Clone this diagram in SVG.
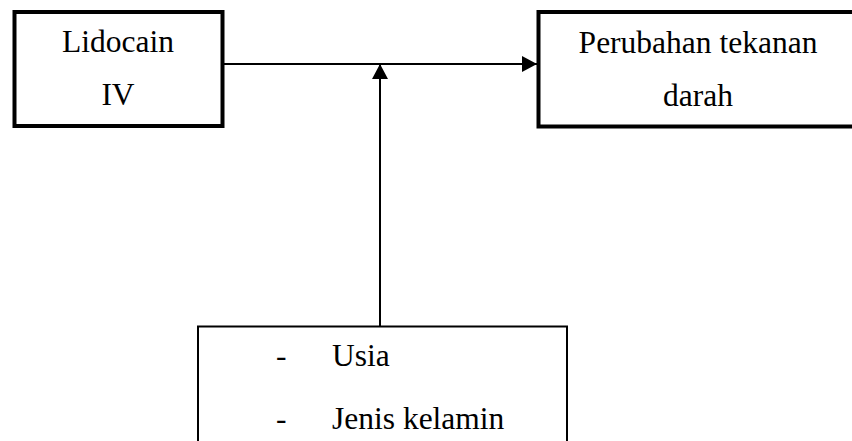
<svg xmlns="http://www.w3.org/2000/svg" width="852" height="441" viewBox="0 0 852 441">
<style>
.box{fill:#fff;stroke:#000;stroke-width:4}
.thin{fill:#fff;stroke:#000;stroke-width:2}
.t{font-family:"Liberation Serif","Times New Roman",serif;font-size:31.5px;fill:#000}
.c{text-anchor:middle}
.ln{stroke:#000;stroke-width:2;fill:none}
</style>
<defs>
<marker id="ah" markerWidth="16" markerHeight="16" refX="15" refY="8" orient="auto" markerUnits="userSpaceOnUse">
<path d="M0,0 L15,8 L0,16 Z" fill="#000"/>
</marker>
</defs>
<rect width="852" height="441" fill="#fff"/>
<g id="connectors">
<line class="ln" x1="224" y1="64" x2="537" y2="64" marker-end="url(#ah)"/>
<line class="ln" x1="380" y1="326" x2="380" y2="64" marker-end="url(#ah)"/>
</g>
<g id="lidocain">
<rect class="box" x="14.5" y="12" width="208" height="114"/>
<text class="t c" x="118" y="52">Lidocain</text>
<text class="t c" x="118" y="105">IV</text>
</g>
<g id="perubahan">
<rect class="box" x="538.5" y="12" width="320" height="114.5"/>
<text class="t c" x="698" y="53">Perubahan tekanan</text>
<text class="t c" x="698" y="106">darah</text>
</g>
<g id="faktor">
<rect class="thin" x="198" y="326.5" width="369" height="130"/>
<text class="t" x="276" y="366">-</text>
<text class="t" x="332" y="366">Usia</text>
<text class="t" x="276" y="429">-</text>
<text class="t" x="332" y="429">Jenis kelamin</text>
</g>
</svg>
